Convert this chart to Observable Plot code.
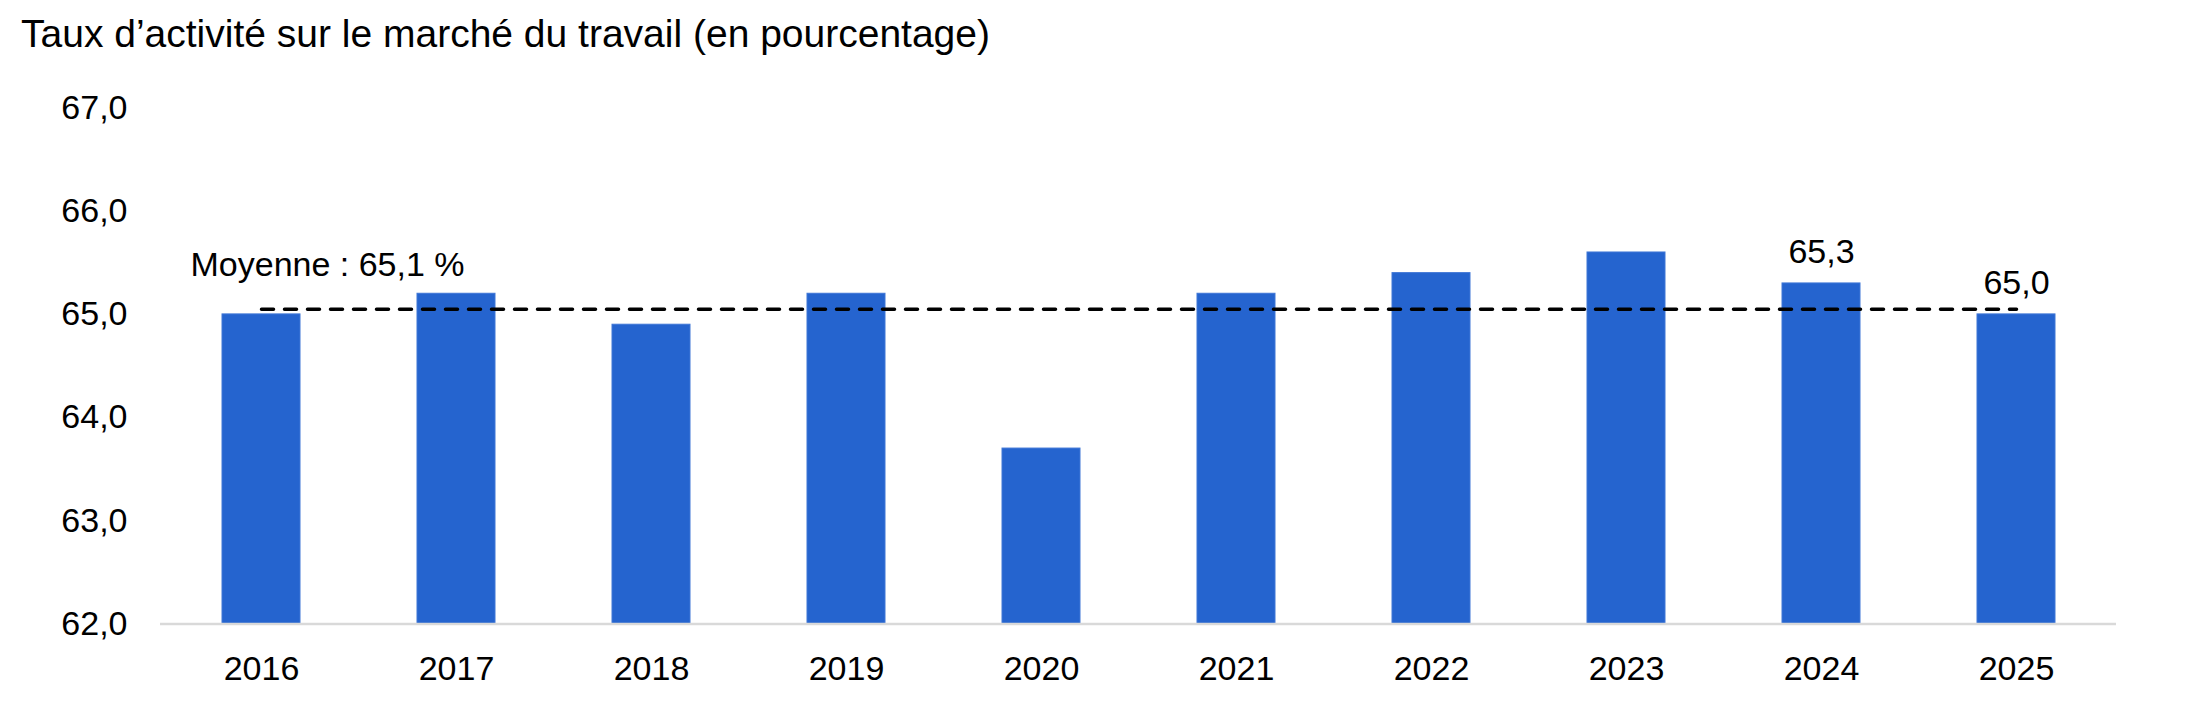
<!DOCTYPE html>
<html>
<head>
<meta charset="utf-8">
<script src="https://cdn.jsdelivr.net/npm/d3@7"></script>
<script src="https://cdn.jsdelivr.net/npm/@observablehq/plot@0.6"></script>
<style>
  html, body { margin: 0; padding: 0; background: #fff; }
  body { width: 2192px; height: 708px; overflow: hidden; font-family: "Liberation Sans", Arial, sans-serif; }
  #title { height: 60px; box-sizing: border-box; padding: 12px 0 0 21px; font-size: 39px; line-height: 1.12; color: #000; white-space: nowrap; }
  #chart svg { display: block; }
</style>
</head>
<body>
<div id="title">Taux d’activité sur le marché du travail (en pourcentage)</div>
<div id="chart"></div>
<script>
// ---- Data ----
const years = ["2016", "2017", "2018", "2019", "2020", "2021", "2022", "2023", "2024", "2025"];
const rates = [65.0, 65.2, 64.9, 65.2, 63.7, 65.2, 65.4, 65.6, 65.3, 65.0];
const labelledYears = ["2024", "2025"];
const meanValue = 65.05;          // position of the dashed average line
const meanLabel = "Moyenne : 65,1 %";
const yTicks = [62, 63, 64, 65, 66, 67];
const yDomain = [62, 67];

const fmt = d => d.toFixed(1).replace(".", ",");
const table = years.map((y, i) => ({ year: y, rate: rates[i] }));
const labelled = table.filter(d => labelledYears.includes(d.year));
const meanLine = years.map(y => ({ year: y, v: meanValue }));

const FS = 34;
const chart = Plot.plot({
  width: 2192,
  height: 648,
  marginTop: 47.5,
  marginBottom: 84.5,
  marginLeft: 160,
  marginRight: 76,
  style: { fontFamily: "Liberation Sans, Arial, sans-serif", fontSize: FS + "px", color: "#000", background: "#fff" },
  x: { domain: years, paddingInner: 0.6, paddingOuter: 0.3, label: null },
  y: { domain: yDomain, label: null },
  marks: [
    Plot.barY(table, { x: "year", y1: yDomain[0], y2: "rate", fill: "#2564cf", stroke: "#3f76d6", strokeWidth: 1 }),
    Plot.ruleY([yDomain[0]], { stroke: "#d9d9d9", strokeWidth: 2.5 }),
    Plot.line(meanLine, { x: "year", y: "v", stroke: "#000", strokeWidth: 3.5, strokeDasharray: "12,11" }),
    Plot.text([meanLabel], { x: () => years[0], y: () => meanValue, text: d => d, textAnchor: "start", lineAnchor: "middle", dx: -71, dy: -44, fill: "#000", fontSize: FS }),
    Plot.text(labelled, { x: "year", y: "rate", text: d => fmt(d.rate), lineAnchor: "middle", dy: -31, fill: "#000", fontSize: FS }),
    Plot.axisY({ ticks: yTicks, tickFormat: fmt, tickSize: 0, tickPadding: 33, fontSize: FS, label: null }),
    Plot.axisX({ tickSize: 0, tickPadding: 32, fontSize: FS, label: null })
  ]
});
document.getElementById("chart").appendChild(chart);
</script>
</body>
</html>
